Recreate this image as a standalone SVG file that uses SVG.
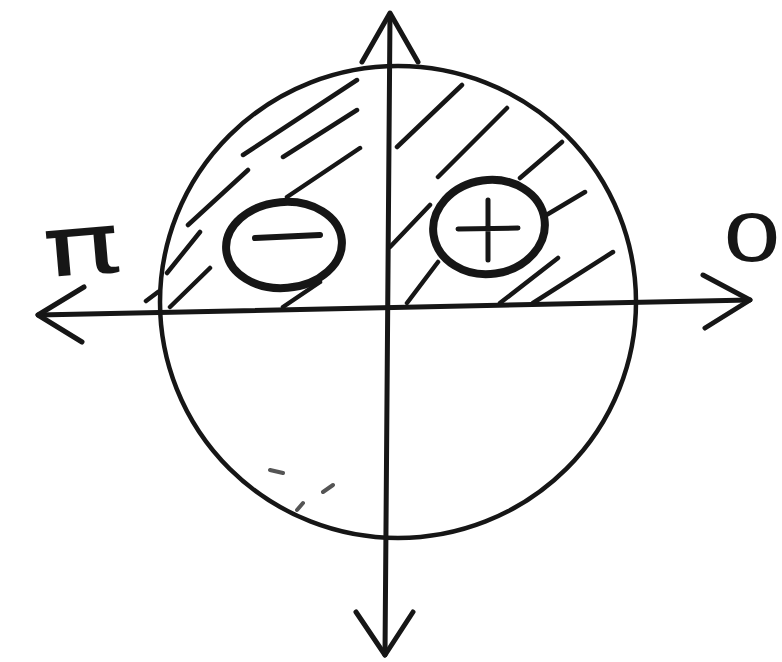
<svg xmlns="http://www.w3.org/2000/svg" width="782" height="662" viewBox="0 0 782 662">
<style>
.ln{fill:none;stroke:#161616;stroke-linecap:round;stroke-linejoin:round}
.ax{stroke-width:5}
.hh{stroke-width:4.5}
.el{stroke-width:8}
.sm{stroke:#555;stroke-width:4}
.lbl{font-family:"DejaVu Sans",sans-serif;fill:#161616;text-anchor:middle}
</style>
<rect width="782" height="662" fill="#fff"/>
<g id="circle">
<ellipse class="ln" cx="398" cy="302" rx="238" ry="236" stroke-width="4.5"/>
</g>
<g id="hatching" class="ln hh">
<path d="M243 155L357 80M283 157L357 110M188 225L248 170M287 197L360 148M167 273L200 232M170 307L210 268M283 307L320 282M146 301L158 292"/>
<path d="M397 147L462 85M438 177L507 108M520 178L562 142M390 247L430 205M543 217L585 192M407 303L438 262M500 303L558 258M533 303L613 252"/>
</g>
<g id="smudges" class="ln sm">
<path d="M270 470L283 473M323 492L333 485M297 510L303 503"/>
</g>
<g id="axes" class="ln ax">
<path d="M38 315L750 300"/>
<path d="M390 14L385 655"/>
<path d="M84 287L38 315L82 342"/>
<path d="M703 275L750 300L705 328"/>
<path d="M362 62L390 13L418 62"/>
<path d="M356 612L385 655L413 612"/>
</g>
<g id="minus">
<ellipse class="ln el" cx="284" cy="245" rx="58" ry="43" transform="rotate(-5 284 245)"/>
<path class="ln" stroke-width="6" d="M255 238L320 235"/>
</g>
<g id="plus">
<ellipse class="ln el" cx="489" cy="227" rx="56" ry="47" transform="rotate(-8 489 227)"/>
<path class="ln" stroke-width="5" d="M458 229L518 228M488 200L488 260"/>
</g>
<g id="labels">
<text class="lbl" font-size="84" transform="translate(84 274) rotate(-5) scale(1.55 1)">π</text>
<text class="lbl" font-size="64" transform="translate(752 261) scale(1.5 1)">0</text>
</g>
</svg>
